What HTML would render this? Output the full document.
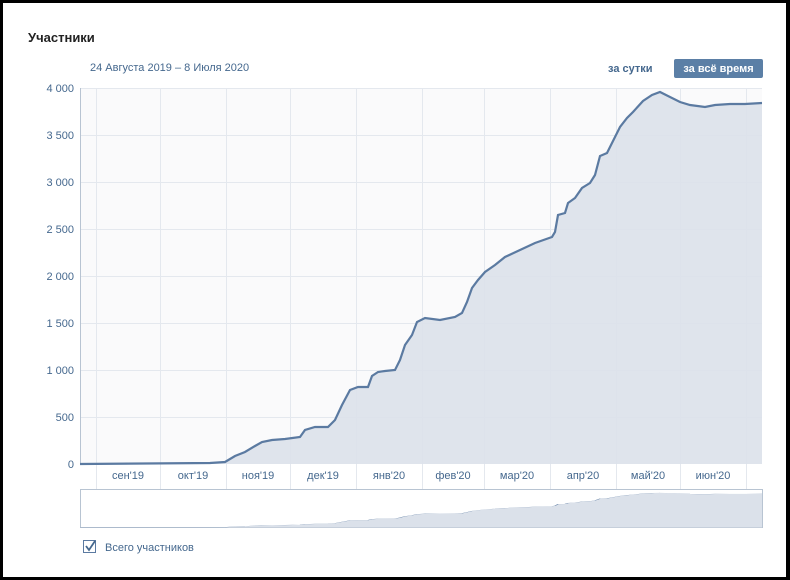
<!DOCTYPE html>
<html><head><meta charset="utf-8"><style>
body{margin:0;width:790px;height:580px;background:#000;overflow:hidden;font-family:"Liberation Sans","DejaVu Sans",sans-serif}
#p{position:absolute;left:3px;top:3px;width:783px;height:574px;background:#fff}
</style></head><body><div id="p"></div>
<svg width="790" height="580" style="position:absolute;left:0;top:0" font-family="Liberation Sans, DejaVu Sans, sans-serif">
<text x="28" y="42" font-size="13" font-weight="bold" fill="#222">Участники</text>
<text x="90" y="71" font-size="11" fill="#45688e">24 Августа 2019 – 8 Июля 2020</text>
<text x="608" y="72" font-size="11" font-weight="bold" fill="#45688e">за сутки</text>
<rect x="674" y="59" width="89" height="19" rx="2" fill="#5b7fa6"/>
<text x="718.5" y="72" font-size="11" font-weight="bold" fill="#fff" text-anchor="middle">за всё время</text>
<rect x="80" y="88" width="682" height="376" fill="#fafafb"/>
<g stroke="#e4e8ee" stroke-width="1">
<line x1="80" x2="762" y1="88.5" y2="88.5"/><line x1="80" x2="762" y1="135.5" y2="135.5"/><line x1="80" x2="762" y1="182.5" y2="182.5"/><line x1="80" x2="762" y1="229.5" y2="229.5"/><line x1="80" x2="762" y1="276.5" y2="276.5"/><line x1="80" x2="762" y1="323.5" y2="323.5"/><line x1="80" x2="762" y1="370.5" y2="370.5"/><line x1="80" x2="762" y1="417.5" y2="417.5"/>
<g id="v"><line x1="96.5" x2="96.5" y1="88" y2="489"/><line x1="160.5" x2="160.5" y1="88" y2="489"/><line x1="226.5" x2="226.5" y1="88" y2="489"/><line x1="290.5" x2="290.5" y1="88" y2="489"/><line x1="356.5" x2="356.5" y1="88" y2="489"/><line x1="422.5" x2="422.5" y1="88" y2="489"/><line x1="484.5" x2="484.5" y1="88" y2="489"/><line x1="550.5" x2="550.5" y1="88" y2="489"/><line x1="616.5" x2="616.5" y1="88" y2="489"/><line x1="680.5" x2="680.5" y1="88" y2="489"/><line x1="746.5" x2="746.5" y1="88" y2="489"/></g>
</g>
<line x1="80.5" x2="80.5" y1="88" y2="464" stroke="#b8c4d2"/>
<defs><path id="d" d="M80,464 L210,463 225,462 235,456 245,452 255,446 262,442 272,440 285,439 300,437 305,430 315,427 328,427 335,420 342,405 350,390 358,387 368,387 372,376 378,372 385,371 395,370 400,360 405,345 412,335 417,322 425,318 440,320 455,317 462,313 467,302 472,288 478,280 485,272 495,265 505,257 520,250 535,243 552,237 555,232 558,215 565,213 568,203 575,198 582,188 590,183 595,175 600,156 607,153 612,143 620,127 627,118 633,112 643,101 652,95 660,92 668,96 680,102 690,105 705,107 715,105 730,104 745,104 762,103"/></defs>
<path d="M80,464 L210,463 225,462 235,456 245,452 255,446 262,442 272,440 285,439 300,437 305,430 315,427 328,427 335,420 342,405 350,390 358,387 368,387 372,376 378,372 385,371 395,370 400,360 405,345 412,335 417,322 425,318 440,320 455,317 462,313 467,302 472,288 478,280 485,272 495,265 505,257 520,250 535,243 552,237 555,232 558,215 565,213 568,203 575,198 582,188 590,183 595,175 600,156 607,153 612,143 620,127 627,118 633,112 643,101 652,95 660,92 668,96 680,102 690,105 705,107 715,105 730,104 745,104 762,103 L762,464 Z" fill="#dbe1ea" fill-opacity="0.9"/>
<use href="#d" fill="none" stroke="#5b7aa1" stroke-width="2.2"/>
<g font-size="11" fill="#45688e" text-anchor="end">
<text x="74" y="92">4 000</text><text x="74" y="139">3 500</text><text x="74" y="186">3 000</text><text x="74" y="233">2 500</text><text x="74" y="280">2 000</text><text x="74" y="327">1 500</text><text x="74" y="374">1 000</text><text x="74" y="421">500</text><text x="74" y="468">0</text>
</g>
<g font-size="11" fill="#45688e" text-anchor="middle">
<text x="128" y="479">сен'19</text><text x="193" y="479">окт'19</text><text x="258" y="479">ноя'19</text><text x="323" y="479">дек'19</text><text x="389" y="479">янв'20</text><text x="453" y="479">фев'20</text><text x="517" y="479">мар'20</text><text x="583" y="479">апр'20</text><text x="648" y="479">май'20</text><text x="713" y="479">июн'20</text>
</g>
<rect x="80.5" y="489.5" width="682" height="38" fill="#fff" stroke="#b8c4d2"/>
<g transform="translate(0,484.2) scale(1,0.093)">
<path d="M80,464 L210,463 225,462 235,456 245,452 255,446 262,442 272,440 285,439 300,437 305,430 315,427 328,427 335,420 342,405 350,390 358,387 368,387 372,376 378,372 385,371 395,370 400,360 405,345 412,335 417,322 425,318 440,320 455,317 462,313 467,302 472,288 478,280 485,272 495,265 505,257 520,250 535,243 552,237 555,232 558,215 565,213 568,203 575,198 582,188 590,183 595,175 600,156 607,153 612,143 620,127 627,118 633,112 643,101 652,95 660,92 668,96 680,102 690,105 705,107 715,105 730,104 745,104 762,103 L762,464 Z" fill="#dbe1ea"/>
<use href="#d" fill="none" stroke="#5b7aa1" stroke-width="1.2" vector-effect="non-scaling-stroke"/>
</g>
<rect x="83.5" y="540.5" width="12" height="12" fill="#fff" stroke="#5b7aa1"/>
<path d="M86,546 L89,550 L95,541" fill="none" stroke="#45688e" stroke-width="1.8"/>
<text x="105" y="551" font-size="11" fill="#45688e">Всего участников</text>
</svg>
</body></html>
